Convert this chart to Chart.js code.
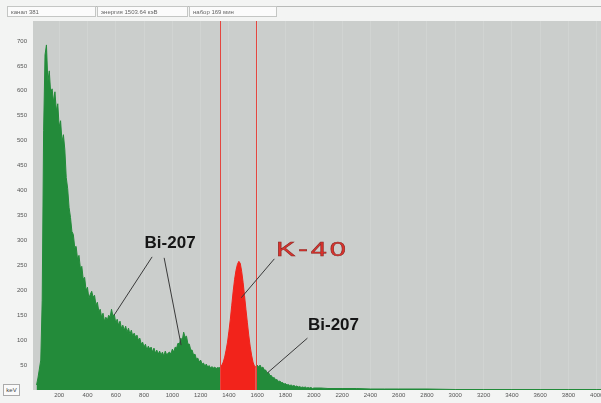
<!DOCTYPE html>
<html lang="ru">
<head>
<meta charset="utf-8" />
<title>Спектр K-40</title>
<script src="https://cdn.jsdelivr.net/npm/chart.js"></script>
<style>
    body { margin: 0; background: #f3f4f3; font-family: "Liberation Sans", Arial, sans-serif; }
    #wrap { position: relative; width: 601px; height: 403px; overflow: hidden; }
    #chart { position: absolute; left: 0; top: 0; }
    .bar { position: absolute; left: 7px; right: 0; top: 6px; height: 12px; border-top: 1px solid #b8bab8; }
    .box { position: absolute; top: 6px; height: 11px; border: 1px solid #c4c6c4; background: #fbfbfb;
           font-size: 6px; line-height: 11px; color: #666; padding-left: 3px; box-sizing: border-box; }
    .unit { position: absolute; left: 3px; top: 384px; width: 17px; height: 12px; border: 1px solid #aaa;
            background: #fafafa; font-size: 6px; line-height: 11px; text-align: center; color: #444; box-sizing: border-box; }
</style>
</head>
<body>
<div id="wrap">
    <canvas id="chart" width="601" height="403"></canvas>
    <div class="bar"></div>
    <div class="box" style="left:7px;width:89px">канал 381</div>
    <div class="box" style="left:97px;width:91px">энергия 1503.64 кэВ</div>
    <div class="box" style="left:189px;width:88px">набор 169 мин</div>
    <div class="unit">keV</div>
</div>
<script>
    // channel calibration: first channel energy and width (keV)
    const keVStart = 40;
    const keVStep = 10;

    // counts per channel, 40 .. 2000 keV
    const counts = [
        10, 24, 42, 60, 180, 520, 672, 692, 618, 640,
        596, 604, 578, 598, 560, 574, 528, 540, 498, 512,
        482, 426, 404, 366, 346, 318, 312, 286, 288, 262,
        270, 244, 248, 222, 226, 200, 206, 184, 192, 198,
        186, 190, 170, 176, 158, 162, 146, 154, 138, 146,
        140, 150, 146, 162, 148, 152, 134, 142, 130, 138,
        124, 130, 120, 128, 116, 124, 112, 120, 108, 114,
        106, 110, 100, 104, 92, 96, 86, 92, 80, 88,
        82, 86, 76, 84, 74, 80, 72, 78, 70, 76,
        68, 78, 70, 74, 76, 72, 82, 76, 86, 84,
        94, 92, 104, 100, 116, 106, 108, 92, 92, 80,
        80, 70, 72, 62, 64, 56, 60, 52, 54, 48,
        52, 46, 49, 44, 47, 44, 46, 43, 45, 44,
        46, 50, 56, 66, 80, 96, 118, 142, 170, 198,
        222, 240, 252, 258, 254, 238, 216, 190, 162, 136,
        110, 88, 70, 56, 48, 46, 50, 46, 50, 44,
        46, 40, 40, 34, 35, 29, 29, 24, 25, 20,
        21, 17, 18, 15, 15, 12, 13, 10, 11, 9,
        10, 8, 9, 7, 8, 6, 7, 5, 6, 5,
        6, 4, 5, 4, 5, 3, 4
    ];

    // sparse tail above 2000 keV
    const tailKeV = [2050, 2100, 2200, 2300, 2400, 2500, 2600, 2800, 3000, 3200, 3400, 3600, 3800, 4000, 4030];
    const tailCounts = [4, 3, 3, 3, 2, 2, 2, 2, 1, 1, 1, 1, 1, 1, 1];

    // K-40 window (keV)
    const roiStart = 1336;
    const roiEnd = 1590;

    const xTicks = [200, 400, 600, 800, 1000, 1200, 1400, 1600, 1800, 2000, 2200, 2400, 2600, 2800, 3000, 3200, 3400, 3600, 3800, 4000];
    const yTicks = [50, 100, 150, 200, 250, 300, 350, 400, 450, 500, 550, 600, 650, 700];

    var points = counts.map(function (c, i) { return { x: keVStart + i * keVStep, y: c }; });
    for (var i = 0; i < tailKeV.length; i++) points.push({ x: tailKeV[i], y: tailCounts[i] });

    var green1 = points.filter(function (p) { return p.x <= roiStart + 4; });
    var red = points.filter(function (p) { return p.x >= roiStart + 4 && p.x <= roiEnd; });
    var green2 = points.filter(function (p) { return p.x >= roiEnd; });

    const GREEN = '#238b3a';
    const RED = '#f2231b';

    function ds(data, color) {
        return {
            data: data,
            borderColor: color,
            backgroundColor: color,
            borderWidth: 1,
            pointRadius: 0,
            fill: 'origin',
            tension: 0
        };
    }

    const decor = {
        id: 'decor',
        beforeDraw: function (chart) {
            var a = chart.chartArea, ctx = chart.ctx;
            ctx.save();
            ctx.fillStyle = '#cbcecc';
            ctx.fillRect(a.left, a.top, a.right - a.left, a.bottom - a.top);
            ctx.restore();
        },
        afterDatasetsDraw: function (chart) {
            var ctx = chart.ctx, xs = chart.scales.x, ys = chart.scales.y, a = chart.chartArea;
            ctx.save();
            // window markers
            ctx.strokeStyle = '#e4463f';
            ctx.lineWidth = 1;
            [roiStart, roiEnd].forEach(function (e) {
                var px = Math.round(xs.getPixelForValue(e)) + 0.5;
                ctx.beginPath();
                ctx.moveTo(px, a.top);
                ctx.lineTo(px, a.bottom);
                ctx.stroke();
            });
            // leader lines
            var leaders = [
                [857, 267, 588, 150],
                [942, 265, 1062, 90],
                [1721, 263, 1487, 185],
                [1955, 104, 1671, 34]
            ];
            ctx.strokeStyle = '#3a3a3a';
            leaders.forEach(function (l) {
                ctx.beginPath();
                ctx.moveTo(xs.getPixelForValue(l[0]), ys.getPixelForValue(l[1]));
                ctx.lineTo(xs.getPixelForValue(l[2]), ys.getPixelForValue(l[3]));
                ctx.stroke();
            });
            // labels
            ctx.textAlign = 'center';
            ctx.textBaseline = 'middle';
            ctx.font = 'bold 17px "Liberation Sans", Arial, sans-serif';
            ctx.fillStyle = '#151515';
            ctx.fillText('Bi-207', xs.getPixelForValue(984), ys.getPixelForValue(295));
            ctx.fillText('Bi-207', xs.getPixelForValue(2139), ys.getPixelForValue(130));
            // K-40: wide, thin lettering
            var kx = xs.getPixelForValue(1983) + 1, ky = ys.getPixelForValue(279);
            ctx.translate(kx, ky);
            ctx.scale(1.45, 1);
            ctx.font = '20px "Liberation Sans", Arial, sans-serif';
            ctx.letterSpacing = '2px';
            ctx.fillStyle = '#e0322c';
            ctx.strokeStyle = '#8a2a26';
            ctx.lineWidth = 0.5;
            ctx.fillText('K-40', 0, 0);
            ctx.strokeText('K-40', 0, 0);
            ctx.restore();
        }
    };

    new Chart(document.getElementById('chart'), {
        type: 'line',
        data: { datasets: [ds(green1, GREEN), ds(red, RED), ds(green2, GREEN)] },
        options: {
            responsive: false,
            animation: false,
            layout: { padding: { top: 21, right: 0, left: 0, bottom: 0 } },
            plugins: { legend: { display: false }, tooltip: { enabled: false } },
            scales: {
                x: {
                    type: 'linear',
                    min: 15,
                    max: 4030,
                    afterBuildTicks: function (s) { s.ticks = xTicks.map(function (v) { return { value: v }; }); },
                    afterFit: function (s) { s.height = 13; s.paddingLeft = 0; s.paddingRight = 0; },
                    grid: { color: 'rgba(255,255,255,0.12)', drawTicks: false },
                    border: { display: false },
                    ticks: {
                        padding: 2, maxRotation: 0, autoSkip: false, color: '#555', font: { size: 6 },
                        callback: function (v) { return String(v); }
                    }
                },
                y: {
                    min: 0,
                    max: 740,
                    afterBuildTicks: function (s) { s.ticks = yTicks.map(function (v) { return { value: v }; }); },
                    afterFit: function (s) { s.width = 33; },
                    grid: { display: false, drawTicks: false },
                    border: { display: false },
                    ticks: { padding: 6, color: '#555', font: { size: 6 } }
                }
            }
        },
        plugins: [decor]
    });
</script>
</body>
</html>
